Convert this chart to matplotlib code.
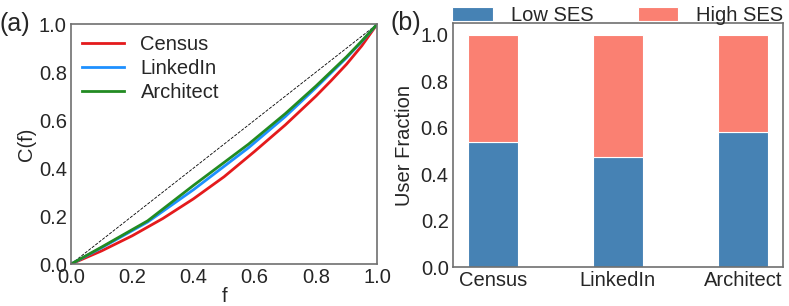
import numpy as np
import matplotlib
matplotlib.use("Agg")
import matplotlib.pyplot as plt

plt.rcParams['font.family'] = ['Liberation Sans', 'DejaVu Sans']
plt.rcParams['text.color'] = '#262626'
plt.rcParams['axes.labelcolor'] = '#262626'
plt.rcParams['xtick.color'] = '#262626'
plt.rcParams['ytick.color'] = '#262626'

# (a) cumulative curves C(f)
f_census = [0, 0.1, 0.2, 0.3, 0.4, 0.5, 0.6, 0.7, 0.8, 0.85, 0.9, 0.95, 1.0]
c_census = [0, 0.055, 0.118, 0.19, 0.272, 0.364, 0.47, 0.58, 0.70, 0.765, 0.833, 0.91, 1.0]

f_linkedin = [0, 0.1, 0.25, 0.4, 0.58, 0.7, 0.8, 0.9, 0.95, 1.0]
c_linkedin = [0, 0.068, 0.175, 0.31, 0.485, 0.615, 0.735, 0.86, 0.928, 1.0]

f_architect = [0, 0.1, 0.25, 0.4, 0.58, 0.7, 0.8, 0.9, 0.95, 1.0]
c_architect = [0, 0.071, 0.18, 0.328, 0.5, 0.627, 0.742, 0.864, 0.93, 1.0]

# (b) user fraction by SES
sources = ['Census', 'LinkedIn', 'Architect']
low_ses = [0.54, 0.475, 0.583]
high_ses = [1 - v for v in low_ses]

fs = 14.5
spine_col = '#707070'

fig = plt.figure(figsize=(7.89, 3.06), dpi=100)
ax1 = fig.add_axes([0.090, 0.137, 0.388, 0.784])
ax2 = fig.add_axes([0.574, 0.127, 0.418, 0.797])

ax1.plot([0, 1], [0, 1], color='black', lw=0.6, ls='--')
ax1.plot(f_census, c_census, color='#e41a1c', lw=2, label='Census')
ax1.plot(f_linkedin, c_linkedin, color='dodgerblue', lw=2, label='LinkedIn')
ax1.plot(f_architect, c_architect, color='forestgreen', lw=2, label='Architect')
ax1.set_xlim(0, 1)
ax1.set_ylim(0, 1)
ax1.set_xticks(np.arange(0, 1.01, 0.2))
ax1.set_yticks(np.arange(0, 1.01, 0.2))
ax1.set_xlabel('f', fontsize=fs, labelpad=0)
ax1.set_ylabel('C(f)', fontsize=fs, labelpad=2)
ax1.legend(loc='upper left', frameon=False, fontsize=fs, handlelength=2.1,
           handletextpad=0.8, labelspacing=0.25, borderaxespad=0.15)
ax1.text(-0.232, 1.0, '(a)', transform=ax1.transAxes, fontsize=18,
         va='center', ha='left')

x = np.arange(len(sources))
ax2.bar(x, low_ses, width=0.4, color='steelblue', edgecolor='white',
        lw=0.8, label='Low SES')
ax2.bar(x, high_ses, width=0.4, bottom=low_ses, color='salmon',
        edgecolor='white', lw=0.8, label='High SES')
ax2.set_xlim(-0.32, 2.32)
ax2.set_ylim(0, 1.05)
ax2.set_xticks(x)
ax2.set_xticklabels(sources)
ax2.set_yticks(np.arange(0, 1.01, 0.2))
ax2.set_ylabel('User Fraction', fontsize=fs, labelpad=5)
ax2.legend(loc='lower center', bbox_to_anchor=(0.5, 0.985), ncol=2,
           frameon=False, fontsize=fs, handlelength=2.0, handleheight=0.7,
           handletextpad=0.9, columnspacing=2.2, borderaxespad=0,
           borderpad=0.1)
ax2.text(-0.19, 1.0, '(b)', transform=ax2.transAxes, fontsize=18,
         va='center', ha='left')

for ax in (ax1, ax2):
    ax.tick_params(length=0, labelsize=fs, pad=3)
    for s in ax.spines.values():
        s.set_color(spine_col)
        s.set_linewidth(1.2)

fig.savefig('out.png', dpi=100)
